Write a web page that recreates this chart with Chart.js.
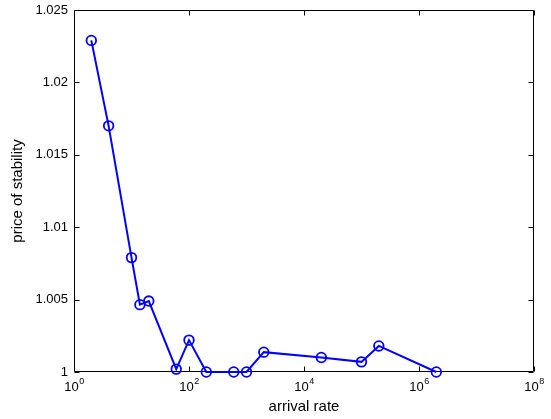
<!DOCTYPE html>
<html>
<head>
<meta charset="utf-8">
<script src="https://cdn.jsdelivr.net/npm/chart.js@4.4.0/dist/chart.umd.min.js"></script>
<style>
    html, body { margin: 0; padding: 0; background: #fff; }
    #wrap { width: 551px; height: 419px; }
</style>
</head>
<body>
<div id="wrap"><canvas id="chart"></canvas></div>
<script>
// data
const arrivalRate = [2, 4, 10, 14, 20, 60, 100, 200, 600, 1000, 2000, 20000, 100000, 200000, 2000000];
const priceOfStability = [1.0229, 1.0170, 1.0079, 1.00465, 1.0049, 1.0002, 1.0022, 1.0, 1.0, 1.0, 1.00137, 1.0010, 1.0007, 1.0018, 1.0];
const xTickExps = [0, 2, 4, 6, 8];
const yTicks = [1, 1.005, 1.01, 1.015, 1.02, 1.025];
const yTickLabels = ['1', '1.005', '1.01', '1.015', '1.02', '1.025'];

const FONT = "'Liberation Sans', Arial, Helvetica, sans-serif";

// MATLAB style box, inward ticks and 10^n labels
const matlabAxes = {
    id: 'matlabAxes',
    beforeDatasetsDraw(chart) {
        const { ctx, chartArea: a, scales: { x, y } } = chart;
        const L = Math.round(a.left) + 0.5, R = Math.round(a.right) - 0.5;
        const T = Math.round(a.top) + 0.5, B = Math.round(a.bottom) - 0.5;
        const tl = 5;
        ctx.save();
        ctx.strokeStyle = '#000';
        ctx.lineWidth = 1;
        ctx.beginPath();
        ctx.rect(L, T, R - L, B - T);
        x.ticks.forEach(t => {
            const px = Math.round(x.getPixelForValue(t.value)) + 0.5;
            ctx.moveTo(px, B); ctx.lineTo(px, B - tl);
            ctx.moveTo(px, T); ctx.lineTo(px, T + tl);
        });
        y.ticks.forEach(t => {
            const py = Math.round(y.getPixelForValue(t.value)) + 0.5;
            ctx.moveTo(L, py); ctx.lineTo(L + tl, py);
            ctx.moveTo(R, py); ctx.lineTo(R - tl, py);
        });
        ctx.stroke();

        // x tick labels with superscript exponent
        ctx.fillStyle = '#000';
        ctx.textBaseline = 'alphabetic';
        ctx.textAlign = 'left';
        xTickExps.forEach(e => {
            const px = x.getPixelForValue(Math.pow(10, e));
            ctx.font = '13px ' + FONT;
            const wBase = ctx.measureText('10').width;
            ctx.font = '9px ' + FONT;
            const wExp = ctx.measureText(String(e)).width;
            const start = px - (wBase + wExp) / 2;
            ctx.font = '13px ' + FONT;
            ctx.fillText('10', start, a.bottom + 19);
            ctx.font = '9px ' + FONT;
            ctx.fillText(String(e), start + wBase + 0.5, a.bottom + 12);
        });
        ctx.restore();
    }
};

const ctx = document.getElementById('chart').getContext('2d');
new Chart(ctx, {
    type: 'line',
    data: {
        datasets: [{
            label: 'price of stability',
            data: arrivalRate.map((v, i) => ({ x: v, y: priceOfStability[i] })),
            borderColor: '#0000ff',
            borderWidth: 2,
            pointRadius: 4.8,
            pointBorderWidth: 1.8,
            pointBorderColor: '#0000ff',
            pointBackgroundColor: 'rgba(0,0,0,0)',
            tension: 0,
            clip: false
        }]
    },
    options: {
        responsive: true,
        maintainAspectRatio: false,
        animation: false,
        devicePixelRatio: 1,
        layout: { padding: { top: 10, right: 17, left: 0, bottom: 0 } },
        plugins: {
            legend: { display: false },
            tooltip: { enabled: false }
        },
        scales: {
            x: {
                type: 'logarithmic',
                min: 1,
                max: 1e8,
                afterBuildTicks: axis => { axis.ticks = xTickExps.map(e => ({ value: Math.pow(10, e) })); },
                afterFit: scale => { scale.height = 47; scale.paddingLeft = 0; scale.paddingRight = 0; },
                ticks: { display: false },
                grid: { display: false, drawTicks: false },
                border: { display: false },
                title: {
                    display: true,
                    text: 'arrival rate',
                    color: '#000',
                    font: { family: FONT, size: 15 },
                    padding: { top: 4, bottom: 3 }
                }
            },
            y: {
                type: 'linear',
                min: 1,
                max: 1.025,
                afterBuildTicks: axis => { axis.ticks = yTicks.map(v => ({ value: v })); },
                afterFit: scale => { scale.width = 74; scale.paddingTop = 0; scale.paddingBottom = 0; },
                ticks: {
                    color: '#000',
                    padding: 6,
                    font: { family: FONT, size: 13 },
                    callback: (v, i) => yTickLabels[i]
                },
                grid: { display: false, drawTicks: false },
                border: { display: false },
                title: {
                    display: true,
                    text: 'price of stability',
                    color: '#000',
                    font: { family: FONT, size: 15 },
                    padding: { top: 9, bottom: 0 }
                }
            }
        }
    },
    plugins: [matlabAxes]
});
</script>
</body>
</html>
